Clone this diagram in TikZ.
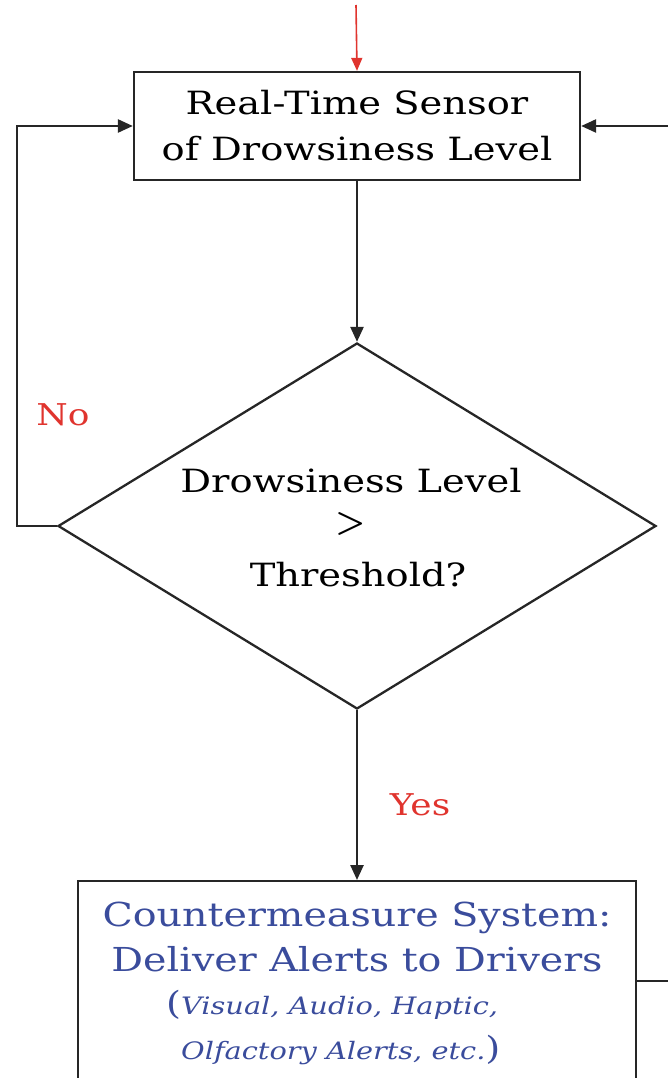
\documentclass[tikz,border=0pt]{standalone}
\usepackage{fontspec}
\setmainfont[FakeStretch=1.2]{DejaVu Serif}
\usetikzlibrary{shapes.geometric,arrows.meta}
\definecolor{flowred}{HTML}{E0342E}
\definecolor{flowblue}{HTML}{3A4C9C}
\tikzset{
  x=1pt, y=1pt,
  flowline/.style={draw=black!85, line width=2.5pt},
  flowarrow/.style={flowline, -{Triangle[length=15pt,width=13pt]}},
  procbox/.style={draw=black!85, line width=2.3pt, rectangle, inner sep=0pt, align=center},
  decision/.style={draw=black!85, line width=2.3pt, diamond, shape aspect=1.634, inner sep=0pt, align=center,
    minimum width=598pt, minimum height=366pt},
  maintext/.style={font=\fontsize{32}{46}\selectfont},
  branchlabel/.style={text=flowred, font=\fontsize{30}{30}\selectfont},
}
\begin{document}
\begin{tikzpicture}
\clip (0,0) rectangle (668,-1078);
\useasboundingbox (0,0) rectangle (668,-1078);

% sensor stage
\node[procbox, maintext, minimum width=446pt, minimum height=108pt] (sensor) at (357,-126)
  {Real-Time Sensor\\of Drowsiness Level};

% decision stage
\node[decision] (check) at (357,-526) {};
\node[align=center, font=\fontsize{32}{47}\selectfont] (checktext) at (351,-528)
  {Drowsiness Level\\\raisebox{7pt}{\sffamily\bfseries\fontsize{34}{34}\selectfont >}\\\hspace*{14pt}Threshold?};

% countermeasure stage
\node[procbox, minimum width=558pt, minimum height=200pt, anchor=north] (counter) at (357,-880) {};
\node[text=flowblue, align=center, font=\fontsize{33}{45}\selectfont, anchor=north] (countertext) at (357,-898)
  {Countermeasure System:\\Deliver Alerts to Drivers};
\node[text=flowblue, align=left, font=\fontsize{24}{45}\itshape, anchor=north west, inner sep=0pt] (alerttext) at (166,-990)
  {{\upshape\fontsize{32}{32}\selectfont(}Visual, Audio, Haptic,\\
   \hspace*{15pt}Olfactory Alerts, etc.{\upshape\fontsize{32}{32}\selectfont)}};

% entry and external connectors
\coordinate (entry) at (356,-5);
\coordinate (rightin) at (668,-126);
\coordinate (rightout) at (668,-980);
\coordinate (loopx) at (17,0);

\draw[draw=flowred, line width=1.6pt, -{Triangle[length=13pt,width=11pt]}] (entry) -- (sensor.north);
\draw[flowarrow] (rightin) -- (sensor.east);
\draw[flowarrow] (sensor.south) -- (check.north);
\draw[flowarrow] (check.west) -- (loopx |- check.west) |- (sensor.west);
\draw[flowarrow] (check.south) -- (counter.north);
\draw[flowline] (counter.east) -- (counter.east -| rightout);

% branch labels
\node[branchlabel] (nolabel) at (63,-415) {No};
\node[branchlabel] (yeslabel) at (420,-805) {Yes};
\end{tikzpicture}
\end{document}
